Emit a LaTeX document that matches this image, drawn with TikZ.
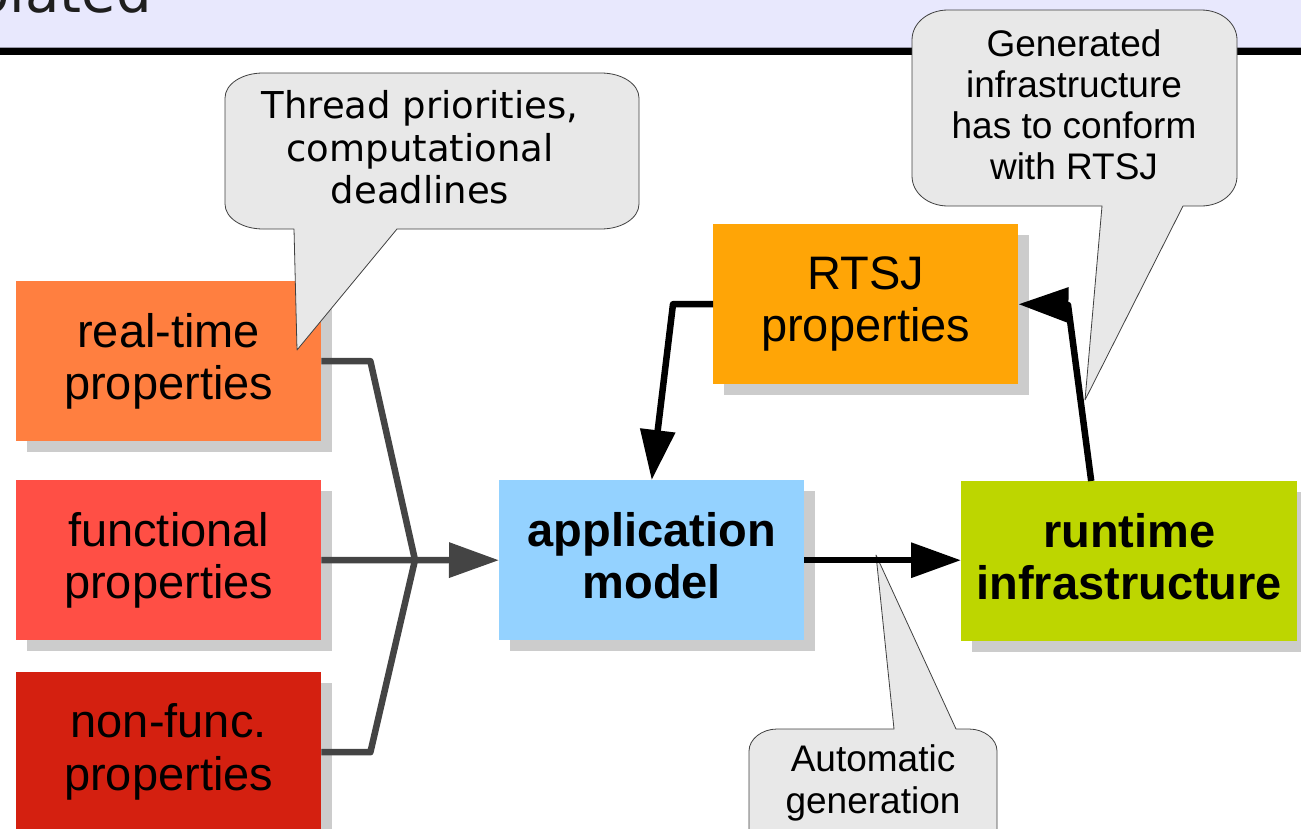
\documentclass[tikz,border=0pt]{standalone}
\usepackage{fontspec}
\setmainfont{Liberation Sans}
\newfontfamily\dejavu{DejaVu Sans}
\usetikzlibrary{arrows.meta,shadows}
\definecolor{bandcol}{HTML}{E8E8FD}
\definecolor{bandline}{HTML}{9A9AAA}
\definecolor{shadowgray}{HTML}{CCCCCC}
\definecolor{rtcol}{HTML}{FF7F40}
\definecolor{fncol}{HTML}{FF4F45}
\definecolor{nfcol}{HTML}{D42010}
\definecolor{appcol}{HTML}{94D2FF}
\definecolor{runcol}{HTML}{BDD600}
\definecolor{rtsjcol}{HTML}{FFA506}
\definecolor{callfill}{HTML}{E8E8E8}
\definecolor{calldraw}{HTML}{404040}
\definecolor{conngray}{HTML}{444444}
\definecolor{titlecol}{HTML}{1E1E1E}
\newcommand\lsstrut{\rule[-0.212em]{0pt}{1.117em}}
\newcommand\djstrut{\rule[-0.236em]{0pt}{1.164em}}
\tikzset{
  propbox/.style={fill=#1, anchor=north west, minimum width=305bp, minimum height=160bp,
    inner sep=0pt, align=center, font=\fontsize{47bp}{52.5bp}\selectfont,
    execute at begin node=\lsstrut, execute at end node=\lsstrut,
    drop shadow={shadow xshift=11bp, shadow yshift=-11bp, fill=shadowgray, opacity=1}},
  boldbox/.style={propbox=#1, font=\fontsize{47bp}{52.5bp}\selectfont\bfseries},
  callout/.style={fill=callfill, draw=calldraw, line width=0.8bp, line join=round},
  callouttext/.style={inner sep=0pt, align=center, font=\fontsize{37bp}{41.3bp}\selectfont,
    execute at begin node=\lsstrut, execute at end node=\lsstrut},
  djtext/.style={inner sep=0pt, align=center, font=\dejavu\fontsize{37bp}{42.8bp}\selectfont,
    execute at begin node=\djstrut, execute at end node=\djstrut},
  gline/.style={draw=conngray, line width=6.5bp, line join=round},
  bline/.style={draw=black, line width=6.5bp, line join=round},
  bigtip/.style={-{Triangle[length=50bp,width=34bp]}}
}
\begin{document}
\begin{tikzpicture}[x=1bp, y=-1bp]
\useasboundingbox (0,0) rectangle (1301,828);
\clip (0,0) rectangle (1301,828);
% header band
\fill[bandcol] (0,0) rectangle (1301,48);
\draw[bandline, line width=1bp] (0,47.5) -- (1301,47.5);
\fill[black] (0,48) rectangle (1301,55);
\node[anchor=base west, inner sep=0pt, text=titlecol, font=\dejavu\fontsize{56bp}{60bp}\selectfont] (title) at (-24.5,12.5) {olated};
% boxes
\node[propbox=rtcol] (rt) at (16,281) {real-time\\properties};
\node[propbox=fncol] (fn) at (16,480) {functional\\properties};
\node[propbox=nfcol] (nf) at (16,672) {non-func.\\properties};
\node[boldbox=appcol] (app) at (499,480) {application\\model};
\node[boldbox=runcol, minimum width=336bp] (run) at (961,481) {runtime\\infrastructure};
\node[propbox=rtsjcol] (rtsj) at (713,224) {RTSJ\\properties};
% callouts
\path[callout] (263,73) -- (601,73) .. controls (622,73) and (639,84) .. (639,98) -- (639,204)
  .. controls (639,218) and (622,229) .. (601,229) -- (397,229) -- (297,350) -- (294,229) -- (263,229)
  .. controls (242,229) and (225,218) .. (225,204) -- (225,98) .. controls (225,84) and (242,73) .. (263,73) -- cycle;
\node[djtext] (threadtxt) at (420,151.4) {Thread priorities,\\computational\\deadlines};
\path[callout] (948,10) -- (1201,10) .. controls (1221,10) and (1237,23) .. (1237,40) -- (1237,176)
  .. controls (1237,193) and (1221,206) .. (1201,206) -- (1183,206) -- (1085,400) -- (1102,206) -- (948,206)
  .. controls (928,206) and (912,193) .. (912,176) -- (912,40) .. controls (912,23) and (928,10) .. (948,10) -- cycle;
\node[callouttext] (gentxt) at (1074,108.5) {Generated\\infrastructure\\has to conform\\with RTSJ};
\path[callout] (777,729) -- (894,729) -- (876,555) -- (956,729) -- (969,729)
  .. controls (984,729) and (997,739) .. (997,751) -- (997,850) -- (749,850) -- (749,751)
  .. controls (749,739) and (762,729) .. (777,729) -- cycle;
\node[callouttext] (autotxt) at (873,783) {Automatic\\generation};
% connectors
\coordinate (j) at (415,560);
\draw[gline] (rt.east) -- ++(49,0) -- (j);
\draw[gline] (fn.east) -- (j);
\draw[gline] (nf.east) -- ++(49,0) -- (j);
\draw[gline, bigtip] (j) -- (app.west);
\draw[bline, bigtip] (rtsj.west) -- ++(-40,0) -- (app.north);
\draw[bline, bigtip] (app.east) -- (app.east -| run.west);
\coordinate (k) at (1068,305);
\draw[bline, bigtip] ([xshift=-38bp]run.north) -- (k) -- (rtsj.east);
\end{tikzpicture}
\end{document}
